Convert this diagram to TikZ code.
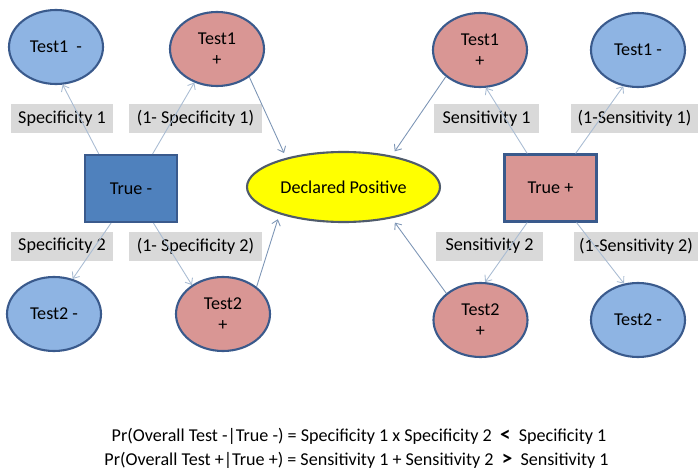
\documentclass[tikz,border=0pt]{standalone}
\usepackage{fontspec}
\setmainfont{Carlito}
\usepackage{xcolor}
\usetikzlibrary{shapes.geometric, arrows.meta}

\definecolor{negblue}{HTML}{8EB4E3}
\definecolor{posred}{HTML}{D99694}
\definecolor{boxblue}{HTML}{4F81BD}
\definecolor{edgeblue}{HTML}{3A5A8C}
\definecolor{declyellow}{HTML}{FFFF00}
\definecolor{declborder}{HTML}{4F5B6B}
\definecolor{labelgray}{HTML}{D9D9D9}
\definecolor{lightarrow}{HTML}{A9BCD3}
\definecolor{darkarrow}{HTML}{7C95B5}

\tikzset{
  testneg/.style={ellipse, draw=edgeblue, fill=negblue, line width=1.2pt,
    minimum width=1.88cm, minimum height=1.48cm, inner sep=0pt, align=center},
  testpos/.style={testneg, fill=posred},
  truebox/.style={rectangle, draw=edgeblue, line width=1.2pt,
    minimum width=1.84cm, minimum height=1.34cm},
  problabel/.style={fill=labelgray, minimum height=0.58cm, inner sep=0pt},
  branch/.style={->, lightarrow, line width=0.5pt},
  declare/.style={->, darkarrow, line width=0.5pt, shorten >=3pt},
}

\begin{document}
\begin{tikzpicture}[font=\fontsize{10.3}{12}\selectfont, >={Straight Barb[length=3pt,width=5pt]}]
  \useasboundingbox (0,0) rectangle (13.96,-9.44);

  % Probability labels
  \node[problabel, minimum width=2.04cm] (spec1) at (1.24,-2.37) {Specificity 1};
  \node[problabel, minimum width=2.66cm] (nspec1) at (3.91,-2.37) {(1- Specificity 1)};
  \node[problabel, minimum width=2.04cm] (spec2) at (1.24,-4.92) {Specificity 2};
  \node[problabel, minimum width=2.66cm] (nspec2) at (3.91,-4.92) {(1- Specificity 2)};
  \node[problabel, minimum width=2.10cm] (sens1) at (9.73,-2.37) {Sensitivity 1};
  \node[problabel, minimum width=2.54cm] (nsens1) at (12.69,-2.37) {(1-Sensitivity 1)};
  \node[problabel, minimum width=2.14cm] (sens2) at (9.79,-4.92) {Sensitivity 2};
  \node[problabel, minimum width=2.48cm] (nsens2) at (12.72,-4.92) {(1-Sensitivity 2)};

  % Left tree: true negative
  \node[truebox, fill=boxblue] (tneg) at (2.62,-3.77) {True -};
  \node[testneg] (lt1neg) at (1.12,-0.94) {Test1 \ -};
  \node[testpos] (lt1pos) at (4.34,-0.98) {Test1\\+};
  \node[testneg] (lt2neg) at (1.08,-6.28) {Test2 -};
  \node[testpos] (lt2pos) at (4.46,-6.28) {Test2\\+};

  % Middle
  \node[ellipse, draw=declborder, fill=declyellow, line width=1.2pt,
    minimum width=3.86cm, minimum height=1.4cm, inner sep=0pt] (declpos) at (6.87,-3.74) {Declared Positive};

  % Right tree: true positive
  \node[truebox, fill=posred] (tpos) at (11.01,-3.76) {True +};
  \node[testpos] (rt1pos) at (9.6,-1.0) {Test1\\+};
  \node[testneg] (rt1neg) at (12.76,-1.0) {Test1 -};
  \node[testpos] (rt2pos) at (9.61,-6.4) {Test2\\+};
  \node[testneg] (rt2neg) at (12.76,-6.4) {Test2 -};

  % Branches
  \draw[branch] (tneg.133) -- (lt1neg.-80);
  \draw[branch] (tneg.58) -- (lt1pos.-124);
  \draw[branch] (tneg.-120) -- (lt2neg.62);
  \draw[branch] (tneg.-57) -- (lt2pos.137);
  \draw[branch] (tpos.124) -- (rt1pos.-81);
  \draw[branch] (tpos.54) -- (rt1neg.-112);
  \draw[branch] (tpos.-124) -- (rt2pos.83);
  \draw[branch] (tpos.-53) -- (rt2neg.111);

  % Positive results feed the declaration
  \draw[declare] (lt1pos.-41) -- (declpos.153);
  \draw[declare] (lt2pos.39) -- (declpos.-157);
  \draw[declare] (rt1pos.218) -- (declpos.33);
  \draw[declare] (rt2pos.142) -- (declpos.-33);

  % Summary
  \node[font=\fontsize{10.3}{12}\selectfont] (eqneg) at (7.18,-8.72)
    {Pr(Overall Test -|True -) = Specificity 1 x Specificity 2 \ \textbf{\large <} \ Specificity 1};
  \node[font=\fontsize{10.3}{12}\selectfont] (eqpos) at (7.13,-9.2)
    {Pr(Overall Test +|True +) = Sensitivity 1 + Sensitivity 2 \ \textbf{\large >} \ Sensitivity 1};
\end{tikzpicture}
\end{document}
